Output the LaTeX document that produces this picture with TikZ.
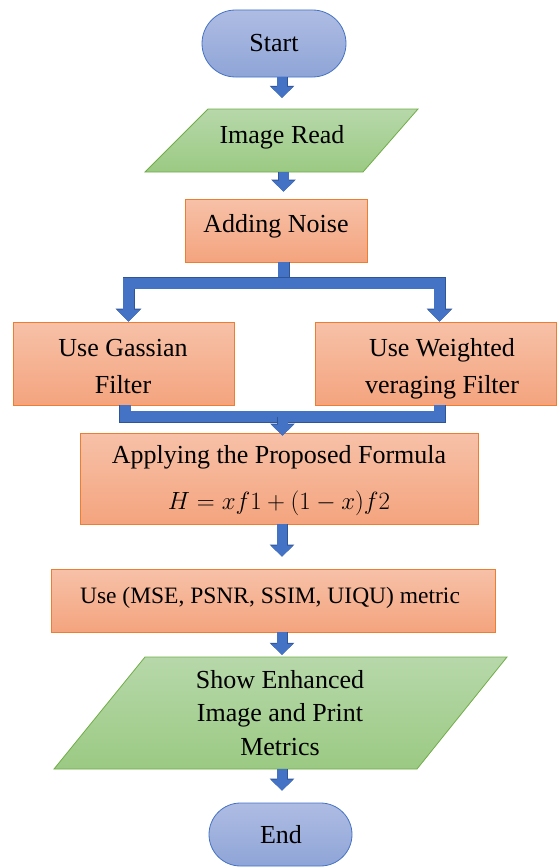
\documentclass[tikz,border=0pt]{standalone}
\usepackage{fontspec}
\setmainfont{Liberation Serif}
\usetikzlibrary{arrows.meta,shapes.misc}
\definecolor{ovtop}{HTML}{AEBCE3}
\definecolor{ovbot}{HTML}{8FA5D7}
\definecolor{ovline}{HTML}{4472C4}
\definecolor{grtop}{HTML}{B7D8AA}
\definecolor{grbot}{HTML}{9BCA83}
\definecolor{grline}{HTML}{70AD47}
\definecolor{ortop}{HTML}{F7C1A8}
\definecolor{orbot}{HTML}{F4A47E}
\definecolor{orline}{HTML}{ED7D31}
\definecolor{arrfill}{HTML}{4472C4}
\definecolor{arrdark}{HTML}{2F5597}
\tikzset{
  terminal/.style={rounded rectangle, draw=ovline, line width=0.8pt, top color=ovtop, bottom color=ovbot, inner sep=0pt},
  procbox/.style={rectangle, draw=orline, line width=0.8pt, top color=ortop, bottom color=orbot, inner sep=0pt},
  iobox/.style={draw=grline, line width=0.8pt, top color=grtop, bottom color=grbot},
  ghost/.style={rectangle, inner sep=0pt, draw=none},
  txt/.style={anchor=base, inner sep=0pt, font=\fontsize{26}{32}\selectfont},
  smalltxt/.style={anchor=base, inner sep=0pt, font=\fontsize{23.5}{28}\selectfont},
  flow/.style={draw=arrfill, line width=10pt, -{Triangle[width=22pt,length=11pt]},
     preaction={draw=arrdark, line width=11pt, -{Triangle[width=24pt,length=12pt]}}},
  flowline/.style={draw=arrfill, line width=11pt, line join=miter,
     preaction={draw=arrdark, line width=12pt, line join=miter}},
  flowsplit/.style={draw=arrfill, line width=11pt, line join=miter, -{Triangle[width=23pt,length=12pt]},
     preaction={draw=arrdark, line width=12pt, line join=miter, -{Triangle[width=25pt,length=13pt]}}},
}
\begin{document}
\begin{tikzpicture}[x=1pt,y=-1pt]
\useasboundingbox (0,0) rectangle (557,867);

% shapes
\node[terminal, minimum width=144pt, minimum height=67pt] (start) at (274,43.5) {};
\node[txt] (starttxt) at (274,52) {Start};

\node[ghost, minimum width=273pt, minimum height=63pt] (read) at (281.5,140.5) {};
\path[iobox] (208,109) -- (418,109) -- (363,172) -- (145,172) -- cycle;
\node[txt] (readtxt) at (282,143) {Image Read};

\node[procbox, minimum width=182pt, minimum height=63pt] (noise) at (276,230.5) {};
\node[txt] (noisetxt) at (276,232) {Adding Noise};

\node[procbox, minimum width=221pt, minimum height=83pt] (gauss) at (124,363.5) {};
\node[txt] (gauss1) at (123,356.6) {Use Gassian};
\node[txt] (gauss2) at (123,393) {Filter};

\node[procbox, minimum width=240.5pt, minimum height=83pt] (weighted) at (436,363.5) {};
\node[txt] (weighted1) at (442,356.6) {Use Weighted};
\node[txt] (weighted2) at (442,393) {veraging Filter};

\node[procbox, minimum width=398pt, minimum height=91pt] (apply) at (279,478.5) {};
\node[txt] (apply1) at (279,463.3) {Applying the Proposed Formula};
\node[txt] (apply2) at (279,509.3) {$H = xf1 + (1-x)f2$};

\node[procbox, minimum width=443.3pt, minimum height=63pt] (metric) at (273.4,600.5) {};
\node[smalltxt] (metrictxt) at (270,603.3) {Use (MSE, PSNR, SSIM, UIQU) metric};

\node[ghost, minimum width=453pt, minimum height=112pt] (show) at (280.5,713) {};
\path[iobox] (145,657) -- (507,657) -- (417,769) -- (54,769) -- cycle;
\node[txt] (show1) at (280,688) {Show Enhanced};
\node[txt] (show2) at (280,721) {Image and Print};
\node[txt] (show3) at (280,755) {Metrics};

\node[terminal, minimum width=143pt, minimum height=63pt] (end) at (280.5,834.5) {};
\node[txt] (endtxt) at (281,843) {End};

% connectors
\coordinate (colA) at (282,0);
\coordinate (split) at (283.5,283.4);
\coordinate (merge) at (282.5,416.8);

\draw[flow] (start.south -| colA) -- ([yshift=11pt]read.north -| colA);
\draw[flow] (read.south -| split) -- ([yshift=7pt]noise.north -| split);

\draw[flowline] (noise.south -| split) -- (split);
\draw[flowsplit] (split) -| ([xshift=4.5pt]gauss.north);
\draw[flowsplit] (split) -| ([xshift=3.5pt]weighted.north);

\draw[flowline] ([xshift=1pt]gauss.south) |- (merge);
\draw[flowline] ([xshift=3.5pt]weighted.south) |- (merge);
\draw[flow] (merge) -- ([yshift=-3pt]apply.north -| merge);

\draw[flow] (apply.south -| colA) -- ([yshift=12pt]metric.north -| colA);
\draw[flow] (metric.south -| colA) -- ([yshift=2pt]show.north -| colA);
\draw[flow] (show.south -| colA) -- ([yshift=12pt]end.north -| colA);
\end{tikzpicture}
\end{document}
